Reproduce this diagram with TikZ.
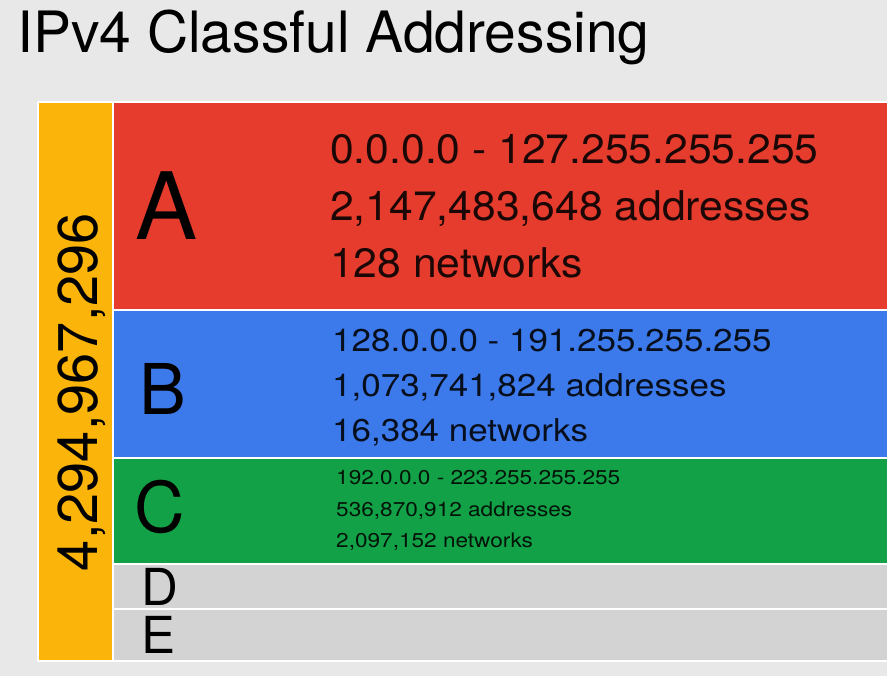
\documentclass[tikz,border=0pt]{standalone}
\usepackage{fontspec}
\setmainfont{TeX Gyre Heros}
\usepackage{xcolor}
\usepackage{tikz}
\usetikzlibrary{positioning}
\definecolor{bgGray}{RGB}{232,232,232}
\definecolor{clsOrange}{RGB}{250,180,10}
\definecolor{clsRed}{RGB}{230,60,46}
\definecolor{clsBlue}{RGB}{60,121,234}
\definecolor{clsGreen}{RGB}{19,161,71}
\definecolor{clsGray}{RGB}{211,211,211}
\tikzstyle{band} = [draw=white, line width=2pt]
\tikzstyle{info} = [draw=none, inner sep = 0, anchor=base west, text opacity=0.88]
\tikzstyle{letter} = [draw=none, inner sep = 0, anchor=base]

\begin{document}
\begin{tikzpicture}[x=1pt, y=-1pt]
\fill [bgGray] (0, 0) rectangle (887, 676);
\useasboundingbox (0, 0) rectangle (887, 676);
\node [info, text opacity=1, font=\fontsize{57}{60}\selectfont] (title) at (17, 53) {IPv4 Classful Addressing};
% class bands
\filldraw [band, fill=clsOrange] (37.5, 102) rectangle (113, 661);
\filldraw [band, fill=clsRed] (113, 102) rectangle (890, 310.5);
\filldraw [band, fill=clsBlue] (113, 310.5) rectangle (890, 458);
\filldraw [band, fill=clsGreen] (113, 458) rectangle (890, 564);
\filldraw [band, fill=clsGray] (113, 564) rectangle (890, 609);
\filldraw [band, fill=clsGray] (113, 609) rectangle (890, 661);
\node [letter, rotate=90, font=\fontsize{56}{60}\selectfont] (total) at (97, 392) {4,294,967,296};
% class letters
\node [letter, font=\fontsize{93}{96}\selectfont] (A) at (167, 240) {A};
\node [letter, font=\fontsize{70}{72}\selectfont] (B) at (163, 415) {B};
\node [letter, font=\fontsize{70}{72}\selectfont] (C) at (160, 532) {C};
\node [letter, font=\fontsize{51}{54}\selectfont] (D) at (160, 605) {D};
\node [letter, font=\fontsize{51}{54}\selectfont] (E) at (159, 653) {E};
% class A
\node [info, xscale=1.04, font=\fontsize{41}{44}\selectfont] (Arange) at (330, 164) {0.0.0.0 - 127.255.255.255};
\node [info, xscale=1.04, font=\fontsize{41}{44}\selectfont] (Aaddr) at (330, 221) {2,147,483,648 addresses};
\node [info, xscale=1.04, font=\fontsize{41}{44}\selectfont] (Anets) at (330, 278) {128 networks};
% class B
\node [info, xscale=1.11, font=\fontsize{31.5}{34}\selectfont] (Brange) at (332, 352) {128.0.0.0 - 191.255.255.255};
\node [info, xscale=1.11, font=\fontsize{31.5}{34}\selectfont] (Baddr) at (332, 397) {1,073,741,824 addresses};
\node [info, xscale=1.11, font=\fontsize{31.5}{34}\selectfont] (Bnets) at (332, 442) {16,384 networks};
% class C
\node [info, xscale=1.13, font=\fontsize{20}{22}\selectfont] (Crange) at (336, 485) {192.0.0.0 - 223.255.255.255};
\node [info, xscale=1.13, font=\fontsize{20}{22}\selectfont] (Caddr) at (336, 516) {536,870,912 addresses};
\node [info, xscale=1.13, font=\fontsize{20}{22}\selectfont] (Cnets) at (336, 547) {2,097,152 networks};
\end{tikzpicture}
\end{document}
